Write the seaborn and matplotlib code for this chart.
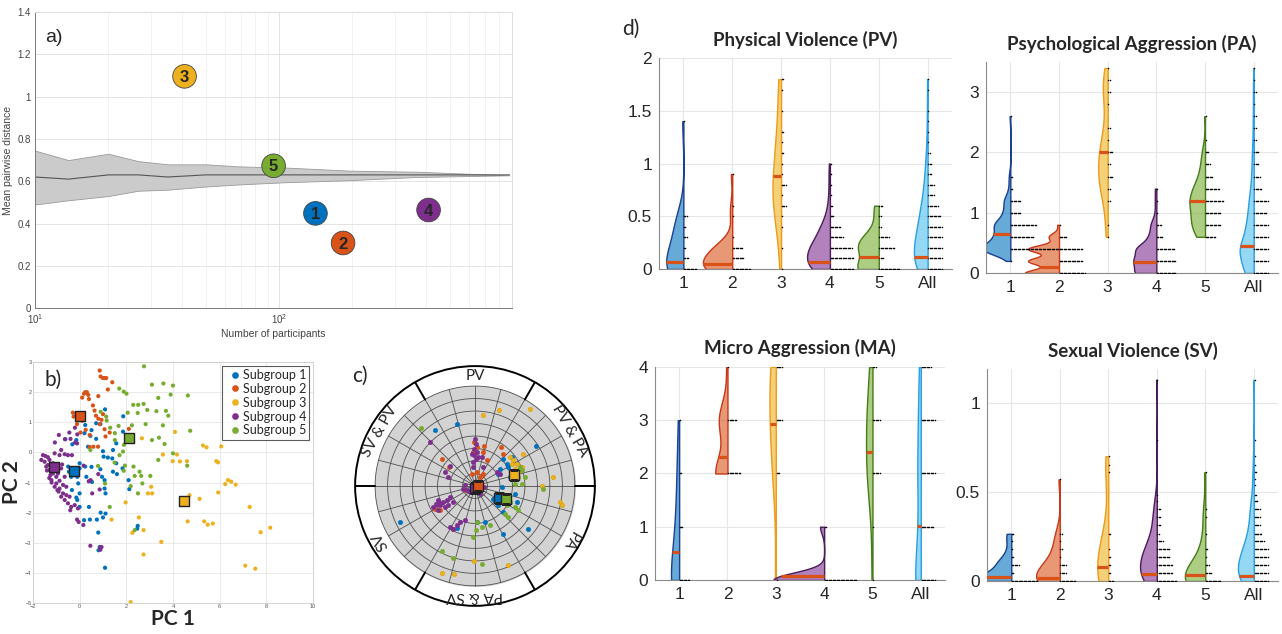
import numpy as np
import pandas as pd
import matplotlib
matplotlib.use('Agg')
import matplotlib.pyplot as plt
import matplotlib.colors as mcolors
from matplotlib.ticker import FuncFormatter, NullFormatter
import seaborn as sns

sns.set_style('white')
plt.rcParams['font.family'] = ['Liberation Sans', 'DejaVu Sans']
CAL = ['Lato', 'DejaVu Sans']

# MATLAB default colours for subgroups 1-5 and "All"
group_colors = ['#0072BD', '#D95319', '#EDB120', '#7E2F8E', '#77AC30', '#4DBEEE']
edge_colors = ['#1B3F91', '#C8391A', '#EE9B17', '#4B1C5C', '#467D1C', '#2A9FE3']
group_labels = ['1', '2', '3', '4', '5', 'All']
subgroup_names = ['Subgroup 1', 'Subgroup 2', 'Subgroup 3', 'Subgroup 4', 'Subgroup 5']

# ---------- a) mean pairwise distance vs sample size
n_participants = [10, 13.7, 20, 26.5, 35, 50, 69, 105, 195, 365, 880]
dist_upper = [0.745, 0.70, 0.73, 0.695, 0.68, 0.68, 0.67, 0.665, 0.65, 0.645, 0.628]
dist_lower = [0.49, 0.51, 0.53, 0.555, 0.56, 0.575, 0.585, 0.595, 0.605, 0.62, 0.628]
dist_mean = [0.62, 0.61, 0.63, 0.63, 0.62, 0.63, 0.63, 0.63, 0.63, 0.63, 0.63]
sub_n = [141, 183, 41, 410, 95]
sub_dist = [0.448, 0.308, 1.096, 0.464, 0.673]

# ---------- b) PCA scores
b_g1_x = [1.09, 1.87, 0.24, 0.71, 0.89, 0.51, 0.21, 0.46, 0.71, -0.61, -0.14, -0.31, 0.36, 1.00, 1.43,
          1.57, 1.03, 1.21, 1.40, 1.57, 1.43, 1.60, 1.84, 0.89, 0.51, 0.24, 0.00, 0.00, -0.29, -0.49,
          -0.46, -0.36, -0.10, -0.06, 0.29, 0.53, 1.07, 1.07, 1.11, 0.96, 2.10, 2.13, -0.33, 0.00, -0.14,
          -0.10, 0.00, 0.40, 0.90, 1.11, 1.00, 0.44, 0.74, 0.19, 0.80, 2.49, 2.47, 0.86, 1.09, 0.81, 1.86]
b_g1_y = [1.43, 1.20, 0.91, 0.97, 0.94, 0.74, 0.64, 0.55, 0.45, 0.44, 0.41, 0.27, 0.19, 0.04, 0.08,
          0.30, -0.14, -0.17, -0.20, -0.36, -0.64, -0.72, -0.53, -0.56, -0.48, -0.47, -0.36, -0.53, -0.53, -0.47,
          -0.64, -0.81, -0.81, -1.03, -0.81, -0.98, -0.92, -1.20, -1.36, -0.81, -0.92, -1.22, -1.25, -1.36, -1.50,
          -1.58, -1.81, -1.81, -2.00, -2.03, -2.16, -2.23, -2.23, -2.25, -2.66, -2.44, -2.53, -3.14, -3.83, -3.25, 0.69]
b_g2_x = [0.86, 0.90, 1.00, 1.07, 1.14, 1.40, 1.21, 0.24, 0.31, 0.19, 0.37, 0.11, 0.40, 0.80, -0.29,
          -0.14, -0.26, -0.07, -0.11, 0.11, 0.26, 0.04, 0.43, 0.64, 0.70, 0.80, 0.94, 0.86, 1.07, 1.00,
          0.59, 0.79, 1.11, 1.29, 2.11, 0.43, 0.57]
b_g2_y = [2.72, 2.52, 2.47, 2.47, 2.47, 2.33, 2.09, 2.00, 2.00, 1.95, 1.91, 1.82, 1.77, 1.87, 1.32,
          1.28, 1.19, 1.08, 0.94, 1.05, 0.75, 0.66, 0.58, 1.39, 1.22, 1.12, 1.08, 0.94, 0.77, 1.27,
          0.19, 0.19, 0.53, 0.66, 0.78, 0.18, 1.56]
b_g3_x = [4.09, 5.29, 5.44, 6.07, 3.57, 4.17, 3.99, 4.30, 4.60, 5.86, 5.93, 6.36, 6.50, 6.24, 6.69,
          5.94, 5.14, 4.71, 3.07, 2.93, 3.11, 1.97, 1.37, 2.54, 2.74, 2.26, 3.50, 2.74, 4.63, 5.34,
          5.49, 5.71, 7.29, 7.76, 8.17, 7.10, 7.53, 2.19, 2.67]
b_g3_y = [0.68, 0.23, 0.17, 0.20, -0.07, -0.07, -0.29, -0.30, -0.29, -0.29, -0.33, -0.92, -0.97, -1.05, -1.07,
          -1.33, -1.54, -1.42, -1.14, -1.36, -1.36, -1.66, -2.23, -2.16, -2.58, -2.67, -2.97, -3.39, -2.29, -2.29,
          -2.40, -2.36, -1.81, -2.65, -2.50, -3.76, -3.86, -4.97, 0.47]
b_g4_x = [-1.57, -1.46, -1.36, -1.64, -1.50, -1.29, -1.36, -1.07, -0.86, -0.64, -0.50, -0.33, -0.89, -0.63, -0.39,
          -0.20, -0.44, -0.10, -0.19, -0.11, -1.06, -0.79, -1.29, -1.14, -1.00, -0.86, -1.00, -0.71, -0.86, -0.57,
          -0.71, -0.57, -0.43, -0.50, -0.36, -0.21, -0.40, -0.07, -0.11, -0.04, 0.16, 0.39, 0.47, 0.80, 0.17,
          0.46, 0.89, 0.94, 0.89, 0.54, 0.86, -1.14, -0.93, -0.64, -0.79, -1.43, -1.21, -1.07, -0.79, -0.64,
          -1.40, -1.25, -1.20, -0.95, -0.75, -1.05, -0.90, -1.30]
b_g4_y = [-0.09, -0.12, -0.16, -0.25, -0.31, -0.25, -0.42, -0.03, -0.09, -0.06, -0.09, -0.09, 0.58, 0.44, 0.45,
          0.82, 0.66, 0.60, 0.33, 0.30, 0.33, 0.08, -0.58, -0.70, -0.81, -0.94, -1.03, -1.08, -1.20, -1.14,
          -1.36, -1.42, -1.47, -1.69, -1.81, -1.75, -1.92, -1.86, -2.23, -2.31, -2.41, -0.96, -0.92, -0.72, -0.44,
          -3.10, -3.16, -3.14, -3.23, -1.36, -1.23, -0.36, -0.70, -0.81, -0.53, -0.47, -0.92, -1.14, -1.47, -1.58,
          -0.60, -0.75, -1.00, -1.25, -0.40, -0.55, -1.30, -0.85]
b_g5_x = [2.76, 3.10, 3.59, 4.00, 4.64, 1.70, 1.89, 2.01, 2.30, 2.51, 2.74, 2.06, 2.49, 2.90, 3.29,
          3.70, 3.80, 3.37, 3.90, 4.74, 2.83, 3.57, 3.64, 3.40, 3.10, 2.24, 1.67, 1.31, 1.16, 1.14,
          0.90, 1.51, 1.51, 1.90, 1.86, 1.71, 1.50, 1.94, 2.31, 1.89, 2.57, 2.36, 2.64, 3.03, 2.19,
          2.50, 1.29, 1.09, 0.79, 0.46, 4.00, 4.61, 3.37, 2.69, 2.36]
b_g5_y = [2.86, 2.25, 2.29, 2.22, 1.89, 2.12, 2.02, 1.95, 1.58, 1.58, 1.61, 1.32, 1.31, 1.41, 1.37,
          1.38, 1.22, 1.81, 1.92, 0.72, 0.94, 0.90, 0.28, 0.49, 0.41, 0.90, 0.88, 0.82, 1.06, 1.19,
          1.35, 0.64, 0.41, 0.25, 0.03, -0.09, -0.34, -0.44, -0.47, -0.61, -0.64, -0.78, -0.78, -0.78, -1.12,
          -1.36, -1.81, -1.03, -0.45, 0.08, -0.03, -0.44, -0.25, -1.03, -2.58]
b_centroid_x = [-0.23, 0.00, 4.47, -1.11, 2.11]
b_centroid_y = [-0.61, 1.22, -1.61, -0.50, 0.48]

# ---------- c) polar projection (cartesian coordinates inside unit disc)
c_g1_u = [-0.40, -0.18, 0.61, 0.28, 0.32, 0.25, 0.37, 0.40, 0.42, 0.22, 0.27, 0.28, 0.28, 0.53, 0.10,
          0.02, -0.18, -0.75, 0.23, 0.35, 0.33, 0.18, 0.23]
c_g1_v = [0.56, 0.62, 0.40, 0.27, 0.22, 0.17, 0.29, -0.08, -0.16, -0.11, -0.01, -0.26, -0.48, -0.43, -0.36,
          -0.36, -0.42, -0.36, 0.12, 0.09, 0.19, -0.13, -0.19]
c_g2_u = [0.02, 0.08, -0.03, 0.09, 0.08, 0.12, 0.26, 0.28, -0.33, -0.26, -0.01, 0.02, -0.35, -0.40, -0.22,
          0.22, 0.27, -0.10, 0.05, -0.02]
c_g2_v = [0.14, 0.12, 0.12, 0.40, 0.34, 0.26, 0.39, 0.32, 0.27, 0.19, 0.44, 0.39, -0.24, -0.23, -0.43,
          -0.13, -0.14, -0.04, 0.09, 0.34]
c_g3_u = [0.24, 0.55, 0.08, 0.35, 0.38, 0.42, 0.45, 0.40, 0.43, 0.37, 0.48, 0.47, 0.78, 0.67, 0.85,
          0.87, 0.33, -0.01, -0.33, -0.21]
c_g3_v = [0.76, 0.77, 0.71, 0.29, 0.26, 0.22, 0.17, 0.17, 0.14, 0.22, 0.32, 0.19, 0.09, 0.00, -0.16,
          -0.19, -0.79, -0.75, -0.87, -0.88]
c_g4_u = [-0.45, -0.25, 0.00, 0.01, -0.01, 0.02, -0.01, 0.01, -0.02, 0.03, -0.03, 0.07, 0.08, 0.22, 0.25,
          -0.38, -0.35, -0.32, -0.28, -0.27, -0.30, -0.42, -0.37, -0.25, -0.22, -0.12, -0.08, -0.05, -0.10,
          -0.25, -0.22, -0.18, -0.15, -0.10, -0.27, -0.30, -0.34, -0.37, -0.39, -0.02, 0.09, 0.05]
c_g4_v = [0.44, 0.20, 0.47, 0.42, 0.37, 0.34, 0.31, 0.27, 0.24, 0.29, 0.32, 0.29, 0.19, 0.14, 0.12,
          -0.18, -0.19, -0.16, -0.14, -0.19, -0.21, -0.21, -0.24, -0.11, -0.16, -0.03, -0.04, -0.06, 0.01,
          -0.41, -0.43, -0.39, -0.36, -0.34, 0.09, 0.14, -0.17, -0.14, -0.18, 0.19, -0.01, -0.08]
c_g5_u = [-0.54, 0.45, 0.47, 0.43, 0.47, 0.40, 0.68, 0.28, 0.35, 0.40, 0.43, 0.32, 0.33, 0.02, 0.01,
          -0.02, 0.07, -0.33, -0.22, 0.07, 0.15, 0.30, 0.50]
c_g5_v = [0.58, 0.19, 0.16, 0.09, 0.02, 0.02, -0.03, -0.08, -0.16, -0.21, -0.24, -0.19, -0.31, -0.36, -0.44,
          -0.51, -0.41, -0.65, -0.72, -0.78, -0.39, -0.28, 0.09]
c_centroid_u = [0.24, 0.03, 0.39, 0.00, 0.31]
c_centroid_v = [-0.12, 0.00, 0.11, -0.02, -0.13]
sector_labels = ['PV', 'PV & PA', 'PA', 'PA & SV', 'SV', 'SV & PV']
sector_angles = [90, 30, 330, 270, 210, 150]

# ---------- d) score distributions per subgroup (response level -> number of participants)
pv_levels = [0, 0.1, 0.2, 0.3, 0.4, 0.5, 0.6, 0.7, 0.8, 0.9, 1.0, 1.1, 1.2, 1.3, 1.4, 1.5, 1.6, 1.7, 1.8]
pv_counts = [
    [10, 4, 2, 3, 2, 3, 0, 0, 0, 0, 0, 0, 0, 0, 1, 0, 0, 0, 0],
    [14, 9, 8, 1, 0, 1, 1, 0, 0, 1, 0, 0, 0, 0, 0, 0, 0, 0, 0],
    [1, 0, 1, 0, 1, 1, 4, 1, 4, 1, 1, 2, 1, 2, 0, 1, 0, 1, 2],
    [18, 18, 17, 10, 8, 3, 2, 1, 1, 1, 1, 0, 0, 0, 0, 0, 0, 0, 0],
    [16, 4, 12, 8, 2, 2, 3, 0, 0, 0, 0, 0, 0, 0, 0, 0, 0, 0, 0],
    [20, 18, 17, 14, 12, 10, 8, 5, 5, 3, 3, 2, 1, 1, 1, 1, 0, 1, 1],
]
pv_medians = [0.07, 0.05, 0.88, 0.07, 0.11, 0.11]

pa_levels = [0, 0.2, 0.4, 0.6, 0.8, 1.0, 1.2, 1.4, 1.6, 1.8, 2.0, 2.2, 2.4, 2.6, 2.8, 3.0, 3.2, 3.4]
pa_counts = [
    [0, 1, 38, 18, 20, 8, 8, 2, 2, 0, 0, 0, 0, 1, 0, 0, 0, 0],
    [20, 18, 18, 6, 1, 0, 0, 0, 0, 0, 0, 0, 0, 0, 0, 0, 0, 0],
    [0, 0, 0, 1, 1, 0, 2, 2, 4, 2, 4, 1, 2, 0, 1, 2, 2, 1],
    [15, 15, 14, 5, 4, 1, 1, 1, 0, 0, 0, 0, 0, 0, 0, 0, 0, 0],
    [0, 0, 0, 8, 12, 12, 14, 11, 6, 4, 3, 1, 0, 1, 0, 0, 0, 0],
    [25, 20, 40, 15, 18, 10, 12, 6, 5, 4, 4, 2, 2, 2, 1, 2, 1, 1],
]
pa_medians = [0.65, 0.10, 2.01, 0.19, 1.19, 0.44]

ma_levels = [0, 1, 2, 3, 4]
ma_counts = [
    [8, 3, 2, 1, 0],
    [0, 0, 10, 7, 1],
    [1, 0, 3, 5, 5],
    [25, 2, 0, 0, 0],
    [1, 1, 6, 6, 3],
    [30, 10, 15, 12, 8],
]
ma_medians = [0.53, 2.30, 2.92, 0.08, 2.40, 1.01]

sv_levels = [0, 0.045, 0.09, 0.135, 0.18, 0.225, 0.265, 0.315, 0.36, 0.405, 0.45, 0.48, 0.54, 0.57,
             0.61, 0.65, 0.70, 0.79, 1.13]
sv_counts = [
    [20, 2, 6, 2, 1, 1, 2, 0, 0, 0, 0, 0, 0, 0, 0, 0, 0, 0, 0],
    [12, 5, 5, 1, 2, 1, 2, 0, 0, 0, 0, 0, 0, 1, 0, 0, 0, 0, 0],
    [4, 2, 2, 2, 1, 0, 2, 0, 0, 0, 0, 0, 0, 0, 1, 1, 1, 0, 0],
    [15, 12, 12, 10, 10, 5, 2, 3, 3, 3, 1, 1, 0, 0, 0, 0, 0, 1, 1],
    [12, 5, 3, 1, 2, 0, 1, 0, 1, 1, 0, 0, 0, 0, 1, 0, 0, 0, 0],
    [25, 20, 18, 15, 14, 8, 6, 5, 5, 5, 3, 2, 1, 1, 2, 1, 1, 1, 1],
]
sv_medians = [0.02, 0.015, 0.08, 0.04, 0.035, 0.03]

fmt_g = FuncFormatter(lambda v, p: f'{v:g}')

fig = plt.figure(figsize=(12.82, 6.34), dpi=100)

# ================= a)
ax_a = fig.add_axes([0.0273, 0.514, 0.372, 0.467])
ax_a.fill_between(n_participants, dist_lower, dist_upper, color='#cbcbcb', edgecolor='#9a9a9a', lw=0.6, zorder=1)
sns.lineplot(x=n_participants, y=dist_mean, color='#555555', lw=0.8, ax=ax_a, zorder=2)
sns.scatterplot(x=sub_n, y=sub_dist, hue=subgroup_names, palette=group_colors[:5], s=290,
                edgecolor='#444444', linewidth=0.6, legend=False, ax=ax_a, zorder=3)
for n, d, lab in zip(sub_n, sub_dist, group_labels[:5]):
    ax_a.text(n, d - 0.005, lab, ha='center', va='center', fontsize=12, fontweight='bold', zorder=4)
ax_a.set_xscale('log')
ax_a.set_xlim(10, 900)
ax_a.set_ylim(0, 1.4)
ax_a.set_yticks(np.arange(0, 1.41, 0.2))
ax_a.yaxis.set_major_formatter(fmt_g)
ax_a.xaxis.set_minor_formatter(NullFormatter())
ax_a.grid(True, which='major', color='#e3e3e3', lw=0.7)
ax_a.grid(True, which='minor', axis='x', color='#ececec', lw=0.5)
ax_a.set_axisbelow(True)
ax_a.tick_params(labelsize=7, length=0, pad=3, colors='#444444')
for side, sp in ax_a.spines.items():
    sp.set_color('#7a7a7a' if side in ('left', 'bottom') else '#dddddd')
    sp.set_linewidth(0.7)
ax_a.set_xlabel('Number of participants', fontsize=7.5, color='#444444', labelpad=2)
ax_a.set_ylabel('Mean pairwise distance', fontsize=7.5, color='#444444', labelpad=3)
ax_a.text(0.022, 0.9, 'a)', transform=ax_a.transAxes, fontsize=14)

# ================= b)
ax_b = fig.add_axes([0.0257, 0.0489, 0.2184, 0.380])
b_x = [b_g1_x, b_g2_x, b_g3_x, b_g4_x, b_g5_x]
b_y = [b_g1_y, b_g2_y, b_g3_y, b_g4_y, b_g5_y]
df_b = pd.concat([pd.DataFrame({'PC1': x, 'PC2': y, 'group': name})
                  for x, y, name in zip(b_x, b_y, subgroup_names)])
sns.scatterplot(data=df_b, x='PC1', y='PC2', hue='group', palette=group_colors[:5], s=9,
                linewidth=0, ax=ax_b, zorder=2)
for i in range(5):
    ax_b.scatter(b_centroid_x[i], b_centroid_y[i], marker='s', s=55, color=group_colors[i],
                 edgecolor='#222222', linewidth=1.0, zorder=4)
ax_b.set_xlim(-2, 10)
ax_b.set_ylim(-5, 3)
ax_b.set_xticks(range(-2, 11, 2))
ax_b.set_yticks(range(-5, 4))
ax_b.grid(True, color='#e6e6e6', lw=0.6)
ax_b.set_axisbelow(True)
ax_b.tick_params(labelsize=4, length=0, pad=1, colors='#555555')
for sp in ax_b.spines.values():
    sp.set_color('#cccccc')
    sp.set_linewidth(0.6)
ax_b.set_xlabel('PC 1', fontsize=15, fontweight='bold', family=CAL, labelpad=0)
ax_b.set_ylabel('PC 2', fontsize=15, fontweight='bold', family=CAL, labelpad=2)
leg = ax_b.legend(loc='upper right', prop={'family': CAL, 'size': 9}, frameon=True,
                  fancybox=False, edgecolor='#333333', borderpad=0.25, handletextpad=-0.2,
                  labelspacing=0.15, markerscale=1.6, borderaxespad=0.3, handlelength=1.6)
leg.get_frame().set_linewidth(0.8)
ax_b.text(0.04, 0.9, 'b)', transform=ax_b.transAxes, fontsize=15, family=CAL)

# ================= c)
ax_c = fig.add_axes([0.277, 0.044, 0.187, 0.379], projection='polar')
ring = np.linspace(0, 2 * np.pi, 361)
ax_c.fill_between(ring, 0, 1, color='#d3d3d3', zorder=0)
for r in np.linspace(0.125, 1.0, 8):
    ax_c.plot(ring, np.full_like(ring, r), color='#505050', lw=0.6, zorder=1)
for a in np.deg2rad(np.arange(0, 360, 15)):
    ax_c.plot([a, a], [0, 1], color='#505050', lw=0.6, zorder=1)
for a in np.deg2rad(np.arange(0, 360, 60)):
    ax_c.plot([a, a], [1, 1.2], color='black', lw=1.4, zorder=2)
for lab, ang in zip(sector_labels, sector_angles):
    ax_c.text(np.deg2rad(ang), 1.1, lab, rotation=ang - 90, rotation_mode='anchor',
              ha='center', va='center', fontsize=11, family=CAL)
c_u = [c_g1_u, c_g2_u, c_g3_u, c_g4_u, c_g5_u]
c_v = [c_g1_v, c_g2_v, c_g3_v, c_g4_v, c_g5_v]
for i in range(5):
    u = np.array(c_u[i]); v = np.array(c_v[i])
    ec = '#D9A000' if i == 2 else group_colors[i]
    ax_c.scatter(np.arctan2(v, u), np.hypot(u, v), s=10, color=group_colors[i], edgecolor=ec,
                 linewidth=0.4, zorder=3)
for i in [3, 1, 2, 0, 4]:
    u, v = c_centroid_u[i], c_centroid_v[i]
    ax_c.scatter(np.arctan2(v, u), np.hypot(u, v), marker='s', s=55, color=group_colors[i],
                 edgecolor='#222222', linewidth=1.0, zorder=5)
ax_c.set_ylim(0, 1.2)
ax_c.set_xticks([])
ax_c.set_yticks([])
ax_c.grid(False)
ax_c.spines['polar'].set_linewidth(1.4)
ax_c.spines['polar'].set_color('black')
fig.text(0.2745, 0.398, 'c)', fontsize=15, family=CAL)


# ================= d)
def half_violins(ax, levels, counts_by_group, medians, title, ylim, yticks, bw, vwidth):
    frames = []
    for i, counts in enumerate(counts_by_group):
        frames.append(pd.DataFrame({'pos': i + 1, 'value': np.repeat(levels, counts)}))
    df = pd.concat(frames, ignore_index=True)
    n0 = len(ax.collections)
    sns.violinplot(data=df, x='pos', y='value', native_scale=True, orient='x', split=True,
                   inner=None, cut=0, density_norm='area', width=vwidth, bw_adjust=bw,
                   linewidth=1.0, ax=ax)
    polys = list(ax.collections[n0:])
    for i, coll in enumerate(polys):
        pos = i + 1
        coll.set_facecolor(mcolors.to_rgba(group_colors[i], 0.6))
        coll.set_edgecolor(edge_colors[i])
        coll.set_linewidth(1.0)
        # put the flat side of the half violin on the category position
        path = coll.get_paths()[0]
        verts = path.vertices.copy()
        verts[:, 0] += pos - verts[:, 0].max()
        path.vertices = verts
        # width of the half violin at the median height
        left = verts[verts[:, 0] < pos - 1e-6]
        xl = pos - 0.1
        if len(left):
            order = np.argsort(left[:, 1])
            xl = np.interp(medians[i], left[order, 1], left[order, 0])
        ax.hlines(medians[i], xl, pos, color='#D95319', lw=2.3, zorder=5)
        # dot strip of individual responses ("All" strip is compressed)
        for lev, c in zip(levels, counts_by_group[i]):
            if c == 0:
                continue
            ndots = min(c, 11) if i == 5 else c
            xs = pos + 0.015 + 0.027 * np.arange(ndots)
            ax.scatter(xs, np.full(ndots, lev), s=1.2, color='black', linewidth=0, zorder=4)
    ax.set_xlim(0.5, 6.5)
    ax.set_ylim(*ylim)
    ax.set_xticks(range(1, 7))
    ax.set_xticklabels(group_labels)
    ax.set_yticks(yticks)
    ax.yaxis.set_major_formatter(fmt_g)
    ax.set_xlabel('')
    ax.set_ylabel('')
    ax.grid(True, color='#e6e6e6', lw=0.8)
    ax.set_axisbelow(True)
    ax.tick_params(labelsize=12.5, length=0, pad=5, colors='#262626')
    for side in ('top', 'right'):
        ax.spines[side].set_visible(False)
    for side in ('left', 'bottom'):
        ax.spines[side].set_color('#8a8a8a')
        ax.spines[side].set_linewidth(0.8)
    ax.set_title(title, fontsize=13.5, fontweight='bold', family=CAL, pad=9)


ax_pv = fig.add_axes([0.514, 0.5757, 0.2286, 0.3328])
half_violins(ax_pv, pv_levels, pv_counts, pv_medians, 'Physical Violence (PV)', (0, 2),
             [0, 0.5, 1, 1.5, 2], 1.0, 0.6)
ax_pa = fig.add_axes([0.7691, 0.5694, 0.2278, 0.3328])
half_violins(ax_pa, pa_levels, pa_counts, pa_medians, 'Psychological Aggression (PA)', (0, 3.5),
             [0, 1, 2, 3], 0.7, 0.7)
ax_ma = fig.add_axes([0.5109, 0.0852, 0.2262, 0.336])
half_violins(ax_ma, ma_levels, ma_counts, ma_medians, 'Micro Aggression (MA)', (0, 4),
             [0, 1, 2, 3, 4], 1.0, 1.05)
ax_sv = fig.add_axes([0.7699, 0.0836, 0.2270, 0.3344])
half_violins(ax_sv, sv_levels, sv_counts, sv_medians, 'Sexual Violence (SV)', (0, 1.19),
             [0, 0.5, 1], 1.0, 0.75)

fig.text(0.485, 0.945, 'd)', fontsize=15, family=CAL)

fig.savefig('out.png', dpi=100)
